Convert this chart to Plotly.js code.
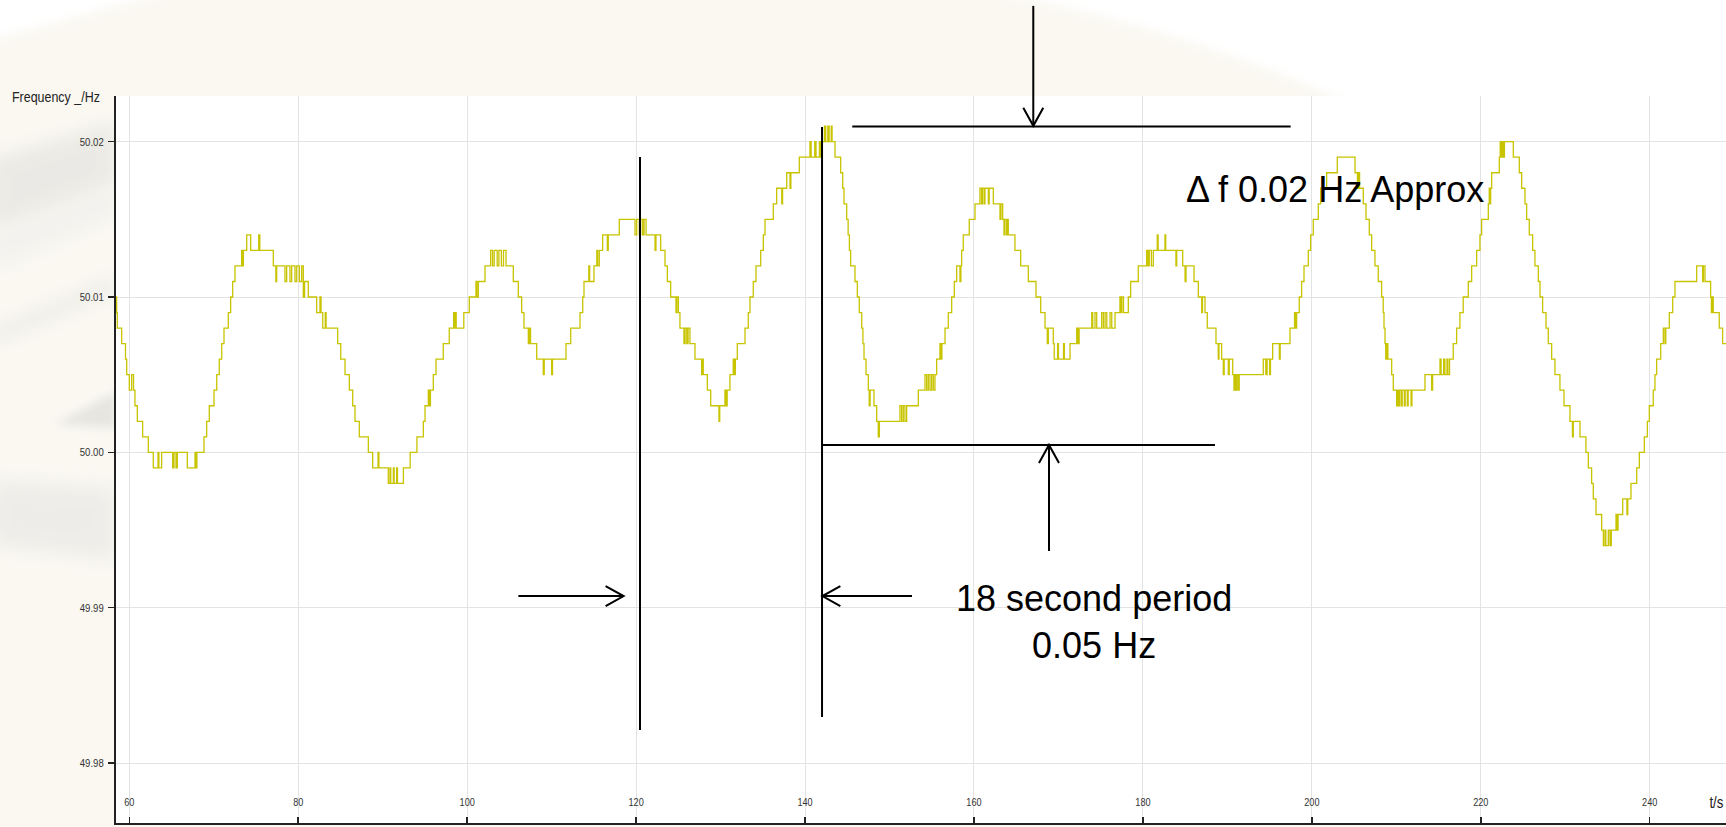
<!DOCTYPE html>
<html>
<head>
<meta charset="utf-8">
<script src="https://cdn.plot.ly/plotly-3.0.1.min.js"></script>
<style>
html,body{margin:0;padding:0;background:#faf8f1;overflow:hidden}
#wrap{position:relative;width:1726px;height:827px}
#bg{position:absolute;left:0;top:0}
#chart{position:absolute;left:0;top:0;width:1726px;height:827px}
</style>
</head>
<body>
<div id="wrap">
<svg id="bg" width="1726" height="827" xmlns="http://www.w3.org/2000/svg">
  <defs>
    <filter id="soft" x="-20%" y="-20%" width="140%" height="140%"><feGaussianBlur stdDeviation="5"/></filter>
    <filter id="soft2" x="-20%" y="-50%" width="140%" height="200%"><feGaussianBlur stdDeviation="9"/></filter>
  </defs>
  <rect width="1726" height="827" fill="#faf8f1"/>
  <path d="M985,-10 C1100,12 1225,46 1350,104 L1740,104 L1740,-10 Z" fill="#ffffff" filter="url(#soft)"/>
  <path d="M-10,-10 L175,-10 L-10,40 Z" fill="#ffffff" filter="url(#soft)"/>
  <path d="M-10,160 L116,122 L116,185 L-10,232 Z" fill="#e6e5e1" opacity="0.75" filter="url(#soft2)"/>
  <path d="M-10,232 L116,185 L116,215 L-10,270 Z" fill="#f2f1ee" opacity="0.9" filter="url(#soft2)"/>
  <path d="M-10,330 L116,276 L116,292 L-10,345 Z" fill="#e8e7e3" opacity="0.7" filter="url(#soft2)"/>
  <path d="M55,424 L116,392 L116,428 Z" fill="#e4e3df" opacity="0.9" filter="url(#soft)"/>
  <path d="M-10,480 L116,488 L116,560 L-10,545 Z" fill="#ecebe8" opacity="0.85" filter="url(#soft2)"/>
</svg>
<div id="chart"></div>
</div>
<script>
// ---- data: grid frequency trace (step breakpoints) ----
const timeA = [58.43,58.50,58.58,59.10,59.55,59.69,60.00,60.28,60.50,60.67,60.95,61.58,62.25,62.84,63.40,63.50,63.83,65.14,65.29,65.53,65.68,66.87,67.78,67.88,68.00,68.84,69.16,69.47,70.03,70.35,70.65,70.94,71.21,71.72,72.00,72.24,72.51,73.30,73.38,73.50,73.90,74.37,75.32,75.45,77.05,77.35,77.45,78.43,78.63,79.02,79.22,79.62,79.82,80.13,80.41,80.60,80.75,81.19,82.18,82.57,82.70,82.90,83.20,83.30,84.67,85.03,85.54,86.05,86.45,86.72,87.23,88.30,88.81,89.45,89.55,90.66,90.86,90.95,91.26,91.35,91.65,91.75,92.45,93.25,94.05];
const freqA = [50.010,50.009,50.008,50.007,50.006,50.005,50.004,50.005,50.004,50.003,50.002,50.001,50.000,49.999,50.000,49.999,50.000,49.999,50.000,49.999,50.000,49.999,50.000,49.999,50.000,50.001,50.002,50.003,50.004,50.005,50.006,50.007,50.008,50.009,50.010,50.011,50.012,50.013,50.012,50.013,50.014,50.013,50.014,50.013,50.012,50.011,50.012,50.011,50.012,50.011,50.012,50.011,50.012,50.011,50.012,50.010,50.011,50.010,50.009,50.010,50.009,50.008,50.009,50.008,50.007,50.006,50.005,50.004,50.003,50.002,50.001,50.000,49.999,50.000,49.999,49.998,49.999,49.998,49.999,49.998,49.999,49.998,49.999,50.000,50.001];

const timeB = [94.81,95.01,95.40,95.55,95.65,95.99,96.31,97.17,97.88,98.40,98.50,98.60,98.70,99.60,100.25,101.04,101.15,101.32,102.11,102.78,103.00,103.20,103.55,103.75,104.05,104.30,104.60,105.46,106.05,106.45,106.72,107.24,107.40,107.50,108.23,109.01,109.12,110.00,110.10,111.70,112.26,113.36,113.68,113.83,114.40,114.50,115.01,115.35,115.45,115.64,116.04,116.59,116.70,118.01,119.87,120.07,120.38,120.54,120.78,120.94,121.18,122.24,122.35,122.91,123.42,123.70,124.09,124.72,124.82,125.00,125.19,125.66,125.80,126.00,126.15,126.37,126.97,127.76,127.85,127.95,128.43,128.83,129.81,129.90,130.52,130.65,130.78,131.11,131.50,131.62,131.75,131.98,132.89,133.28,133.48,133.87,134.19,134.75,135.06,135.26,136.24,136.64,137.24,137.34,137.83,138.22,138.32,139.32,140.58,140.72,141.15,141.30,141.70,141.85,142.00,142.30,142.45,142.70,142.85,143.10,143.20,143.55];
const freqB = [50.002,50.003,50.004,50.003,50.004,50.005,50.006,50.007,50.008,50.009,50.008,50.009,50.008,50.009,50.010,50.011,50.010,50.011,50.012,50.013,50.012,50.013,50.012,50.013,50.012,50.013,50.012,50.011,50.010,50.009,50.008,50.007,50.008,50.007,50.006,50.005,50.006,50.005,50.006,50.007,50.008,50.009,50.010,50.011,50.012,50.011,50.012,50.013,50.012,50.013,50.014,50.013,50.014,50.015,50.014,50.015,50.014,50.015,50.014,50.015,50.014,50.013,50.014,50.013,50.012,50.011,50.010,50.009,50.010,50.009,50.008,50.007,50.008,50.007,50.008,50.007,50.006,50.005,50.006,50.005,50.004,50.003,50.002,50.003,50.004,50.003,50.004,50.005,50.006,50.005,50.006,50.007,50.008,50.009,50.010,50.011,50.012,50.013,50.014,50.015,50.016,50.017,50.016,50.017,50.018,50.017,50.018,50.019,50.020,50.019,50.020,50.019,50.020,50.019,50.020,50.021,50.020,50.021,50.020,50.021,50.020,50.019];

const timeC = [144.22,144.46,144.61,144.93,145.10,145.25,145.40,145.91,146.19,146.42,146.71,146.85,146.98,147.22,147.49,147.60,147.70,148.16,148.48,148.67,148.80,151.24,151.44,151.63,151.83,152.03,153.41,154.20,154.40,154.59,154.79,154.99,155.18,155.38,155.58,155.97,156.05,156.20,156.57,156.96,157.36,157.67,157.95,158.34,158.45,158.54,158.73,159.44,160.12,160.71,160.90,161.00,161.20,161.30,161.70,161.80,162.29,163.08,163.20,163.40,163.55,163.65,163.85,163.95,164.06,164.85,165.53,166.43,167.34,167.90,168.41,168.68,168.80,169.39,169.50,169.90,170.00,170.60,170.70,171.37,172.16,172.30,172.45,173.94,174.06,174.33,174.53,175.12,175.32,175.52,175.72,176.11,176.31,176.70,177.28,177.40,177.50,177.70,178.27,178.55,179.45,180.44,180.60,180.75,181.00,181.23,181.70,181.80,182.61,182.70,183.91,184.00,184.71,184.99,185.10,186.05,186.56,186.96,187.05,187.35,187.62,188.65,188.92,189.00,189.32,189.52,189.62,190.11,190.22,190.63,190.78,190.88,191.02,191.12,191.29,191.40];
const freqC = [50.018,50.017,50.016,50.015,50.014,50.013,50.012,50.011,50.010,50.009,50.008,50.007,50.006,50.005,50.004,50.003,50.004,50.003,50.002,50.001,50.002,50.003,50.002,50.003,50.002,50.003,50.004,50.005,50.004,50.005,50.004,50.005,50.004,50.005,50.006,50.007,50.006,50.007,50.008,50.009,50.010,50.011,50.012,50.011,50.012,50.013,50.014,50.015,50.016,50.017,50.016,50.017,50.016,50.017,50.016,50.017,50.016,50.015,50.016,50.015,50.014,50.015,50.014,50.015,50.014,50.013,50.012,50.011,50.010,50.009,50.008,50.007,50.008,50.007,50.006,50.007,50.006,50.007,50.006,50.007,50.008,50.007,50.008,50.009,50.008,50.009,50.008,50.009,50.008,50.009,50.008,50.009,50.008,50.009,50.010,50.009,50.010,50.009,50.010,50.011,50.012,50.013,50.012,50.013,50.012,50.013,50.014,50.013,50.014,50.013,50.012,50.013,50.012,50.011,50.012,50.011,50.010,50.009,50.010,50.009,50.008,50.007,50.006,50.007,50.006,50.005,50.006,50.005,50.006,50.005,50.004,50.005,50.004,50.005,50.004,50.005];

const timeD = [194.25,194.55,194.70,195.00,195.10,195.36,196.15,196.25,197.41,197.95,198.05,198.20,198.51,198.79,199.07,199.58,199.86,200.17,200.76,201.04,201.75,203.01,205.11,205.40,205.55,205.65,206.09,206.41,206.80,207.08,207.47,207.86,208.26,208.45,208.54,208.66,208.75,208.85,209.00,209.45,209.64,210.04,210.15,210.30,210.40,210.60,210.70,210.95,211.05,211.30,211.40,211.75,211.85,213.39,214.18,214.30,215.17,215.30,215.60,215.75,216.00,216.10,216.30,216.74,217.14,217.53,217.92,218.52,218.92,219.51,219.90,220.10,220.89,221.00,221.08,221.17,221.29,222.19,222.30,222.40,222.55,222.65,222.80,223.85,224.56,224.84,225.23,225.43,225.74,226.14,226.41,226.81,227.01,227.32,227.72,227.99,228.39,228.78,229.37,229.85,230.56,230.85,230.95,231.74,232.45,232.73,233.12,233.32,233.64,234.31,234.51,234.70,234.80,235.10,235.30,235.45,236.01,236.15,236.25,236.80,237.30,237.40,237.78,238.46,238.77,239.36,239.72,239.95,240.42,240.62,240.82,241.30,241.61,241.80,241.90,242.32,242.72,242.99,245.56,246.27,246.35,246.54,247.21,247.30,247.40,247.52,248.23,248.63,249.03];
const freqD = [50.006,50.005,50.006,50.005,50.006,50.007,50.006,50.007,50.008,50.009,50.008,50.009,50.010,50.011,50.012,50.013,50.014,50.015,50.016,50.017,50.018,50.019,50.018,50.017,50.018,50.017,50.016,50.015,50.014,50.013,50.012,50.011,50.010,50.009,50.008,50.007,50.006,50.007,50.006,50.005,50.004,50.003,50.004,50.003,50.004,50.003,50.004,50.003,50.004,50.003,50.004,50.003,50.004,50.005,50.004,50.005,50.006,50.005,50.006,50.005,50.006,50.005,50.006,50.007,50.008,50.009,50.010,50.011,50.012,50.013,50.014,50.015,50.016,50.017,50.016,50.017,50.018,50.019,50.020,50.019,50.020,50.019,50.020,50.019,50.018,50.017,50.016,50.015,50.014,50.013,50.012,50.011,50.010,50.009,50.008,50.007,50.006,50.005,50.004,50.003,50.002,50.001,50.002,50.001,50.000,49.999,49.998,49.997,49.996,49.995,49.994,49.995,49.994,49.995,49.994,49.995,49.996,49.995,49.996,49.997,49.996,49.997,49.998,49.999,50.000,50.001,50.002,50.003,50.004,50.005,50.006,50.007,50.008,50.007,50.008,50.009,50.010,50.011,50.012,50.011,50.012,50.011,50.010,50.009,50.010,50.009,50.008,50.007,50.007];

const xTicks = [60, 80, 100, 120, 140, 160, 180, 200, 220, 240];
const yTicks = [49.98, 49.99, 50.00, 50.01, 50.02];

const time = [].concat(timeA, timeB, timeC, timeD);
const freq = [].concat(freqA, freqB, freqC, freqD);

// ---- layout geometry ----
const W = 1726, H = 827, ML = 116, MR = 0, MT = 96, MB = 4;
const PW = W - ML - MR, PH = H - MT - MB;
const X0 = 58.425, X1 = 249.03, Y0 = 49.97614, Y1 = 50.02294;
const px = t => (t - X0) / (X1 - X0);
const py = f => (f - Y0) / (Y1 - Y0);
const dx = p => p / PW, dy = p => p / PH;

const NARROW = '"Liberation Sans Narrow", "Arial Narrow", "Liberation Sans", Arial, sans-serif';
const SANS = '"Liberation Sans", Arial, sans-serif';

function seg(t0, f0, t1, f1) {
  return {type: 'line', xref: 'paper', yref: 'paper', layer: 'above',
    x0: px(t0), y0: py(f0), x1: px(t1), y1: py(f1), line: {color: '#000', width: 2}};
}
function head(t, f, dir) {
  const x = px(t), y = py(f), b = 18, h = 10;
  let p1, p2;
  if (dir === 'down') { p1 = [x - dx(h), y + dy(b)]; p2 = [x + dx(h), y + dy(b)]; }
  if (dir === 'up') { p1 = [x - dx(h), y - dy(b)]; p2 = [x + dx(h), y - dy(b)]; }
  if (dir === 'right') { p1 = [x - dx(b), y + dy(h)]; p2 = [x - dx(b), y - dy(h)]; }
  if (dir === 'left') { p1 = [x + dx(b), y + dy(h)]; p2 = [x + dx(b), y - dy(h)]; }
  return {type: 'path', xref: 'paper', yref: 'paper', layer: 'above',
    path: `M${p1[0]},${p1[1]} L${x},${y} L${p2[0]},${p2[1]}`, line: {color: '#000', width: 2}};
}

const shapes = [
  seg(167.02, 50.02874, 167.02, 50.02102), head(167.02, 50.02102, 'down'),
  seg(145.59, 50.02097, 197.49, 50.02097),
  seg(120.46, 50.01902, 120.46, 49.98213),
  seg(142.01, 50.02095, 142.01, 49.98296),
  seg(142.01, 50.00048, 188.53, 50.00048),
  seg(168.88, 49.99365, 168.88, 50.00048), head(168.88, 50.00048, 'up'),
  seg(106.06, 49.99075, 118.52, 49.99075), head(118.52, 49.99075, 'right'),
  seg(152.66, 49.99075, 142.05, 49.99075), head(142.05, 49.99075, 'left')
];

const annotations = [
  {xref: 'paper', yref: 'paper', x: dx(56 - ML), y: 1 + dy(-1), xanchor: 'center', yanchor: 'middle',
   text: 'Frequency _/Hz', showarrow: false, font: {family: NARROW, size: 15, color: '#222'}},
  {xref: 'paper', yref: 'paper', x: dx(1716.5 - ML), y: dy(21), xanchor: 'center', yanchor: 'middle',
   text: 't/s', showarrow: false, borderpad: 0, font: {family: NARROW, size: 16, color: '#222'}},
  {xref: 'paper', yref: 'paper', x: px(202.74), y: py(50.0169), xanchor: 'center', yanchor: 'middle',
   text: '\u0394 f 0.02 Hz Approx', showarrow: false, font: {family: SANS, size: 36, color: '#000'}},
  {xref: 'paper', yref: 'paper', x: px(174.18), y: py(49.98908), xanchor: 'center', yanchor: 'middle',
   align: 'center', text: '18 second period<br>0.05 Hz', showarrow: false,
   font: {family: SANS, size: 36, color: '#000'}}
];

const trace = {
  x: time, y: freq, type: 'scatter', mode: 'lines',
  line: {shape: 'hv', color: '#c8c400', width: 1.3},
  hoverinfo: 'skip', showlegend: false
};

const layout = {
  width: W, height: H,
  margin: {l: ML, r: MR, t: MT, b: MB, pad: 0},
  paper_bgcolor: 'rgba(0,0,0,0)', plot_bgcolor: '#ffffff',
  showlegend: false,
  font: {family: NARROW, size: 11, color: '#333'},
  xaxis: {
    range: [X0, X1], tickvals: xTicks, ticktext: xTicks.map(String),
    showgrid: true, gridcolor: '#e3e3e3', gridwidth: 1, zeroline: false,
    showline: true, linecolor: '#222', linewidth: 2,
    ticks: 'inside', ticklen: 6, tickwidth: 1.5, tickcolor: '#222',
    ticklabelposition: 'inside', ticklabelstandoff: 8,
    tickfont: {family: NARROW, size: 11, color: '#333'}
  },
  xaxis2: {
    overlaying: 'x', anchor: 'y', side: 'bottom', range: [X0, X1], tickvals: xTicks,
    showticklabels: false, showgrid: false, zeroline: false, showline: false,
    ticks: 'outside', ticklen: 4, tickwidth: 1.5, tickcolor: '#222'
  },
  yaxis: {
    range: [Y0, Y1], tickvals: yTicks, tickformat: '.2f',
    showgrid: true, gridcolor: '#e3e3e3', gridwidth: 1, zeroline: false,
    showline: true, linecolor: '#222', linewidth: 2,
    ticks: 'outside', ticklen: 6, tickwidth: 1.5, tickcolor: '#222',
    ticklabelstandoff: 2,
    tickfont: {family: NARROW, size: 11.5, color: '#333'}
  },
  shapes: shapes,
  annotations: annotations
};

// the original labels use a condensed face; squeeze the fallback sans horizontally
function condense(gd) {
  const list = Array.from(gd.querySelectorAll('.xtick text, .ytick text'));
  gd.querySelectorAll('.annotation-text').forEach(el => {
    const t = el.textContent;
    if (t === 'Frequency _/Hz' || t === 't/s') list.push(el);
  });
  list.forEach(el => {
    const w = el.getComputedTextLength();
    if (w > 0) {
      el.setAttribute('textLength', (w * 0.83).toFixed(2));
      el.setAttribute('lengthAdjust', 'spacingAndGlyphs');
    }
  });
}

Plotly.newPlot('chart', [trace], layout, {displayModeBar: false, staticPlot: true}).then(gd => condense(gd));
</script>
</body>
</html>
